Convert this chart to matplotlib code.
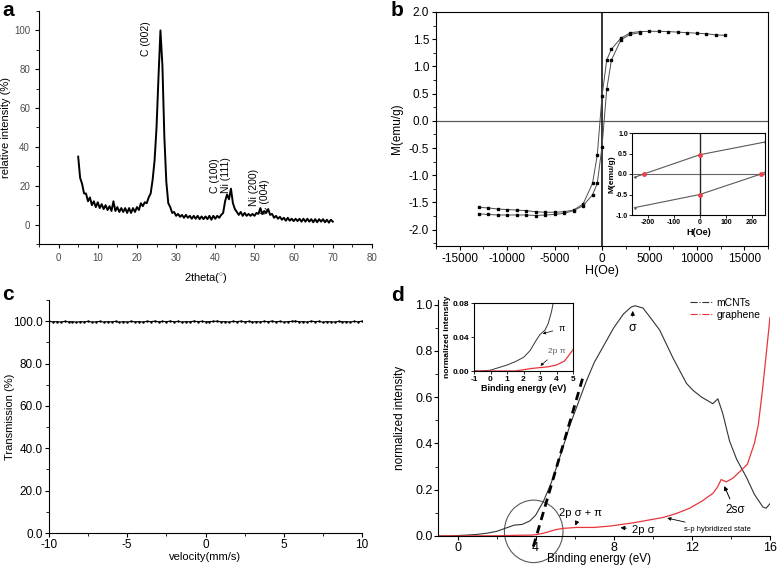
"""Four-panel characterisation figure: XRD, hysteresis, Mossbauer, UPS."""
import numpy as np
import matplotlib
matplotlib.use("Agg")
import matplotlib.pyplot as plt
from matplotlib.patches import Ellipse
from matplotlib.lines import Line2D
from matplotlib.ticker import MultipleLocator, FormatStrFormatter

plt.rcParams["font.family"] = ["Liberation Sans", "DejaVu Sans"]
plt.rcParams["mathtext.fontset"] = "custom"
plt.rcParams["mathtext.rm"] = "Liberation Sans"
plt.rcParams["axes.unicode_minus"] = False

# ---- panel a: XRD pattern, 0.5 deg grid starting at 5 deg ----
xrd_start, xrd_step = 5.0, 0.5
xrd_intensity = [
    35, 24, 21, 16, 16, 12, 14, 10, 12, 9, 11.5, 8.5, 10.5, 8, 10, 7.5, 9.5, 7,
    12, 7, 9, 6.5, 8.5, 6.5, 8.5, 6, 8.5, 6, 8.5, 6.5, 9, 7.5, 11, 9.5, 11.5, 11,
    14, 16, 23, 33, 50, 76, 100, 82, 45, 22, 11, 9, 6, 6.5, 4.5, 5.5, 4, 5, 3.5,
    5, 3.5, 4.5, 3, 4.5, 3, 4.5, 2.8, 4.2, 2.8, 4.2, 2.8, 4.5, 2.5, 4.5, 3, 4.5,
    3.5, 5, 6, 12, 15.5, 13, 18.5, 11, 8, 6.5, 5, 6.5, 4.5, 6, 4.5, 5.5, 4.5,
    5.5, 4.5, 6, 5.5, 8.5, 5.5, 7, 6, 8, 5, 5.5, 3.5, 4.5, 3, 4, 2.5, 3.5, 2,
    3.5, 2, 3, 1.8, 3, 1.8, 3, 1.5, 3, 1.5, 3, 1.5, 2.8, 1.2, 2.8, 1.2, 2.8,
    1.5, 2.8, 1.2, 2.5, 1, 2.5, 1.5,
]
xrd_labels = ["C (002)", "C (100)", "Ni (111)", "Ni (200)", "C (004)"]
xrd_label_x = [22.2, 39.8, 42.8, 49.8, 52.6]
xrd_label_y = [87, 16.3, 16.3, 9.4, 5.7]

# ---- panel b: hysteresis loop ----
h_desc = [13000, 12000, 11000, 10000, 9000, 8000, 7000, 6000, 5000, 4000,
          3000, 2000, 1000, 500, 0, -500, -1000, -2000, -3000, -4000, -5000,
          -6000, -7000, -8000, -9000, -10000, -11000, -12000, -13000]
m_desc = [1.57, 1.58, 1.60, 1.61, 1.62, 1.63, 1.64, 1.645, 1.645, 1.64,
          1.62, 1.52, 1.32, 1.12, 0.45, -0.63, -1.15, -1.53, -1.64, -1.67,
          -1.68, -1.68, -1.67, -1.65, -1.64, -1.63, -1.62, -1.60, -1.59]
h_asc = [-13000, -12000, -11000, -10000, -9000, -8000, -7000, -6000, -5000,
         -4000, -3000, -2000, -1000, -500, 0, 500, 1000, 2000, 3000, 4000]
m_asc = [-1.71, -1.72, -1.73, -1.73, -1.73, -1.73, -1.74, -1.73, -1.72,
         -1.70, -1.65, -1.56, -1.36, -1.15, -0.48, 0.58, 1.12, 1.49, 1.59, 1.62]
# inset: zoom around origin
hin_up = [-250, -215, 0, 250]
min_up = [-0.08, 0.0, 0.47, 0.78]
hin_low = [-250, 0, 235, 250]
min_low = [-0.82, -0.5, 0.0, 0.04]
hin_mark = [-215, 0, 0, 235]
min_mark = [0.0, 0.47, -0.5, 0.0]

# ---- panel c: Mossbauer transmission, 0.25 mm/s grid from -10 ----
moss_start, moss_step = -10.0, 0.25
transmission = [
    99.9, 99.7, 99.8, 99.6, 99.9, 99.7, 99.8, 99.5, 99.8, 99.7, 99.9, 99.6,
    99.7, 99.9, 99.6, 99.8, 99.7, 99.9, 99.5, 99.8, 99.6, 99.9, 99.7, 99.8,
    99.6, 99.9, 99.8, 100.0, 99.7, 99.9, 99.8, 100.0, 99.7, 99.9, 99.6, 99.8,
    99.7, 100.0, 99.8, 99.9, 99.7, 99.8, 99.9, 100.0, 99.7, 99.8, 99.6, 99.9,
    99.8, 100.0, 99.7, 99.9, 99.6, 99.8, 99.7, 99.9, 99.8, 100.0, 99.7, 99.9,
    99.6, 99.8, 99.9, 100.0, 99.7, 99.8, 99.6, 100.0, 99.8, 99.9, 99.5, 99.8,
    99.7, 99.6, 99.9, 99.7, 99.8, 99.6, 99.9, 99.7, 100.0,
]

# ---- panel d: UPS spectra ----
cnt_e = [-1, -0.5, 0, 0.5, 1, 1.5, 2, 2.5, 2.9, 3.3, 3.7, 4.0, 4.4, 4.8, 5.2,
         5.76, 6.2, 6.6, 7.0, 7.4, 8.0, 8.5, 8.9, 9.1, 9.5, 10.0, 10.35,
         11.03, 11.72, 12.05, 12.5, 13.07, 13.33, 13.58, 13.93, 14.3, 14.78,
         15.2, 15.63, 15.8, 16.0]
cnt_i = [0, 0, 0.002, 0.004, 0.007, 0.012, 0.02, 0.035, 0.047, 0.05, 0.065,
         0.09, 0.15, 0.23, 0.33, 0.48, 0.58, 0.67, 0.75, 0.81, 0.9, 0.96,
         0.99, 0.995, 0.985, 0.93, 0.89, 0.77, 0.66, 0.63, 0.60, 0.572,
         0.593, 0.53, 0.41, 0.33, 0.256, 0.18, 0.126, 0.12, 0.14]
gr_e = [-1, 2, 3, 3.8, 4.05, 4.4, 4.73, 5.0, 5.41, 6.1, 7.0, 7.8, 9.0, 10.52,
        11.2, 11.88, 12.5, 13.07, 13.3, 13.5, 13.76, 14.1, 14.44, 14.84,
        15.2, 15.4, 15.6, 15.8, 16.0]
gr_i = [0, 0.001, 0.003, 0.004, 0.006, 0.012, 0.02, 0.027, 0.033, 0.037,
        0.037, 0.043, 0.057, 0.08, 0.097, 0.12, 0.15, 0.184, 0.21, 0.244,
        0.234, 0.25, 0.277, 0.31, 0.40, 0.48, 0.62, 0.78, 0.945]
fit_e = [3.88, 6.4]
fit_i = [-0.046, 0.68]
# inset: onset region
cnt_e_in = [-1, -0.5, 0, 0.5, 1, 1.5, 2, 2.4, 2.7, 3.0, 3.3, 3.5, 3.7, 3.85]
cnt_i_in = [0, 0, 0.001, 0.004, 0.007, 0.011, 0.016, 0.024, 0.034, 0.043,
            0.048, 0.056, 0.07, 0.085]
gr_e_in = [-1, 1.5, 2, 2.5, 3, 3.5, 4, 4.5, 5]
gr_i_in = [0, 0, 0.0015, 0.003, 0.004, 0.005, 0.007, 0.012, 0.025]

W, H = 778, 566
fig = plt.figure(figsize=(W / 100, H / 100), dpi=100)


def box(l, t, r, b):
    """Axes rect from pixel edges (left, top, right, bottom)."""
    return [l / W, 1 - b / H, (r - l) / W, (b - t) / H]


def open_axes(ax):
    ax.spines["top"].set_visible(False)
    ax.spines["right"].set_visible(False)


# panel a
ax = fig.add_axes(box(39, 11, 372, 244))
xrd_x = xrd_start + xrd_step * np.arange(len(xrd_intensity))
ax.plot(xrd_x, xrd_intensity, color="k", lw=1.4)
for lab, lx, ly in zip(xrd_labels, xrd_label_x, xrd_label_y):
    ax.text(lx, ly, lab, rotation=90, ha="center", va="bottom", fontsize=7.5)
ax.set_xlim(-5, 80)
ax.set_ylim(-10, 110)
ax.xaxis.set_major_locator(MultipleLocator(10))
ax.xaxis.set_minor_locator(MultipleLocator(5))
ax.yaxis.set_major_locator(MultipleLocator(20))
ax.yaxis.set_minor_locator(MultipleLocator(10))
open_axes(ax)
ax.tick_params(labelsize=7, labelcolor="0.3", length=3, width=0.8)
ax.tick_params(which="minor", length=2, width=0.6)
ax.set_xlabel(r"2theta($^{\circ}$)", fontsize=8)
ax.set_ylabel("relative intensity (%)", fontsize=8)
ax.xaxis.set_label_coords(0.5, -0.115)
ax.yaxis.set_label_coords(-0.084, 0.5)

# panel b
ax = fig.add_axes(box(436, 12, 768, 246))
ax.axhline(0, color="0.35", lw=0.9)
ax.axvline(0, color="0.15", lw=1.3)
ax.plot(h_desc, m_desc, color="0.3", lw=0.7, marker="s", ms=2.0,
        mfc="k", mec="k")
ax.plot(h_asc, m_asc, color="0.3", lw=0.7, marker="s", ms=2.0,
        mfc="k", mec="k")
ax.set_xlim(-17500, 17500)
ax.set_ylim(-2.3, 2.0)
ax.xaxis.set_major_locator(MultipleLocator(5000))
ax.xaxis.set_minor_locator(MultipleLocator(2500))
ax.yaxis.set_major_locator(MultipleLocator(0.5))
ax.yaxis.set_minor_locator(MultipleLocator(0.25))
ax.tick_params(labelsize=8.5, length=3, width=0.8, pad=2)
ax.tick_params(which="minor", length=2, width=0.6)
ax.set_xlabel("H(Oe)", fontsize=9)
ax.set_ylabel("M(emu/g)", fontsize=8.5)
ax.xaxis.set_label_coords(0.5, -0.08)
ax.yaxis.set_label_coords(-0.099, 0.5)

axi = fig.add_axes(box(632, 133, 765, 215))
axi.axhline(0, color="0.4", lw=0.8)
axi.axvline(0, color="0.15", lw=1.0)
axi.plot(hin_up, min_up, color="0.35", lw=0.8, marker=".", ms=1.5)
axi.plot(hin_low, min_low, color="0.35", lw=0.8, marker=".", ms=1.5)
axi.plot(hin_mark, min_mark, ls="none", marker="o", ms=2.5, color="#e8434a")
axi.set_xlim(-260, 250)
axi.set_ylim(-1.0, 1.0)
axi.xaxis.set_major_locator(MultipleLocator(100))
axi.yaxis.set_major_locator(MultipleLocator(0.5))
axi.tick_params(labelsize=5, length=2, width=0.6, pad=1)
for t in axi.get_xticklabels() + axi.get_yticklabels():
    t.set_fontweight("bold")
axi.set_xlabel("H(Oe)", fontsize=6.5, fontweight="bold", labelpad=1)
axi.set_ylabel("M(emu/g)", fontsize=6, fontweight="bold", labelpad=0)

# panel c
ax = fig.add_axes(box(49, 300, 362, 533))
moss_v = moss_start + moss_step * np.arange(len(transmission))
ax.plot(moss_v, transmission, color="k", lw=0.8, marker=".", ms=1.5)
ax.set_xlim(-10, 10)
ax.set_ylim(0, 110)
ax.xaxis.set_major_locator(MultipleLocator(5))
ax.xaxis.set_minor_locator(MultipleLocator(2.5))
ax.yaxis.set_major_locator(MultipleLocator(20))
ax.yaxis.set_minor_locator(MultipleLocator(10))
ax.yaxis.set_major_formatter(FormatStrFormatter("%.1f"))
open_axes(ax)
ax.tick_params(labelsize=8.5, length=3, width=0.8, pad=1.5)
ax.tick_params(which="minor", length=2, width=0.6)
ax.set_xlabel("velocity(mm/s)", fontsize=8)
ax.set_ylabel("Transmission (%)", fontsize=8)
ax.xaxis.set_label_coords(0.5, -0.083)
ax.yaxis.set_label_coords(-0.109, 0.5)

# panel d
ax = fig.add_axes(box(438, 300, 770, 536))
ax.plot(cnt_e, cnt_i, color="0.2", lw=0.8)
ax.plot(gr_e, gr_i, color="#e8353b", lw=0.9)
ax.plot(fit_e, fit_i, color="k", lw=2.0, dashes=(3, 2), clip_on=False)
ax.add_patch(Ellipse((3.9, 0.02), 3.0, 0.27, fill=False, ec="0.35",
                     lw=0.8, clip_on=False))
ax.annotate("σ", xy=(8.97, 0.985), xytext=(8.97, 0.9), fontsize=9,
            ha="center", va="center",
            arrowprops=dict(arrowstyle="-|>", color="k", lw=0.7,
                            mutation_scale=6))
ax.annotate("2p σ + π", xy=(6.03, 0.045), xytext=(6.3, 0.1), fontsize=8,
            ha="center", va="center",
            arrowprops=dict(arrowstyle="-|>", color="k", lw=0.7,
                            mutation_scale=6))
ax.annotate("2p σ", xy=(8.2, 0.037), xytext=(9.5, 0.028), fontsize=8,
            ha="center", va="center",
            arrowprops=dict(arrowstyle="-|>", color="k", lw=0.7,
                            mutation_scale=6))
ax.annotate("s-p hybridized state", xy=(10.6, 0.08), xytext=(13.3, 0.029),
            fontsize=5.5, ha="center", va="center",
            arrowprops=dict(arrowstyle="-|>", color="k", lw=0.6,
                            mutation_scale=5, shrinkA=3))
ax.annotate("2sσ", xy=(13.6, 0.227), xytext=(14.2, 0.112), fontsize=8.5,
            ha="center", va="center",
            arrowprops=dict(arrowstyle="-|>", color="k", lw=0.7,
                            mutation_scale=6))
ax.set_xlim(-1, 16)
ax.set_ylim(0, 1.02)
ax.xaxis.set_major_locator(MultipleLocator(4))
ax.xaxis.set_minor_locator(MultipleLocator(2))
ax.yaxis.set_major_locator(MultipleLocator(0.2))
ax.yaxis.set_minor_locator(MultipleLocator(0.1))
open_axes(ax)
ax.tick_params(labelsize=9, length=3, width=0.8, pad=1)
ax.tick_params(which="minor", length=2, width=0.6)
ax.set_xlabel("Binding energy (eV)", fontsize=8.5)
ax.set_ylabel("normalized intensity", fontsize=8.5)
ax.xaxis.set_label_coords(0.485, -0.07)
ax.yaxis.set_label_coords(-0.096, 0.5)
handles = [
    Line2D([0], [0], color="0.2", lw=0.8, ls="-."),
    Line2D([0], [0], color="#e8353b", lw=0.8, ls="-."),
]
ax.legend(handles, ["mCNTs", "graphene"], loc="upper right",
          bbox_to_anchor=(1.0, 1.05), frameon=False, fontsize=7.5,
          handlelength=2.2, labelspacing=0.2, handletextpad=0.4)

axi = fig.add_axes(box(474, 303, 573, 371))
axi.plot(cnt_e_in, cnt_i_in, color="0.2", lw=0.7)
axi.plot(gr_e_in, gr_i_in, color="#e8353b", lw=0.9)
axi.annotate("π", xy=(3.0, 0.043), xytext=(4.3, 0.05), fontsize=6.5,
             ha="center", va="center",
             arrowprops=dict(arrowstyle="-|>", color="k", lw=0.5,
                             mutation_scale=4))
axi.annotate("2p π", xy=(2.9, 0.004), xytext=(4.0, 0.0227), fontsize=6,
             color="0.4", ha="center", va="center",
             arrowprops=dict(arrowstyle="-|>", color="k", lw=0.5,
                             mutation_scale=4))
axi.set_xlim(-1, 5)
axi.set_ylim(0, 0.08)
axi.xaxis.set_major_locator(MultipleLocator(1))
axi.yaxis.set_major_locator(MultipleLocator(0.04))
axi.yaxis.set_major_formatter(FormatStrFormatter("%.2f"))
axi.tick_params(labelsize=6, length=2, width=0.6, pad=1.5)
for t in axi.get_xticklabels() + axi.get_yticklabels():
    t.set_fontweight("bold")
axi.set_xlabel("Binding energy (eV)", fontsize=6.5, fontweight="bold",
               labelpad=1)
axi.set_ylabel("normalized intensity", fontsize=6, fontweight="bold",
               labelpad=1)

# panel letters
for letter, px, py in [("a", 2, 16), ("b", 391, 16), ("c", 2, 300),
                       ("d", 391, 301)]:
    fig.text(px / W, 1 - py / H, letter, fontsize=15, fontweight="bold",
             ha="left", va="baseline")

fig.savefig("out.png", dpi=100)
